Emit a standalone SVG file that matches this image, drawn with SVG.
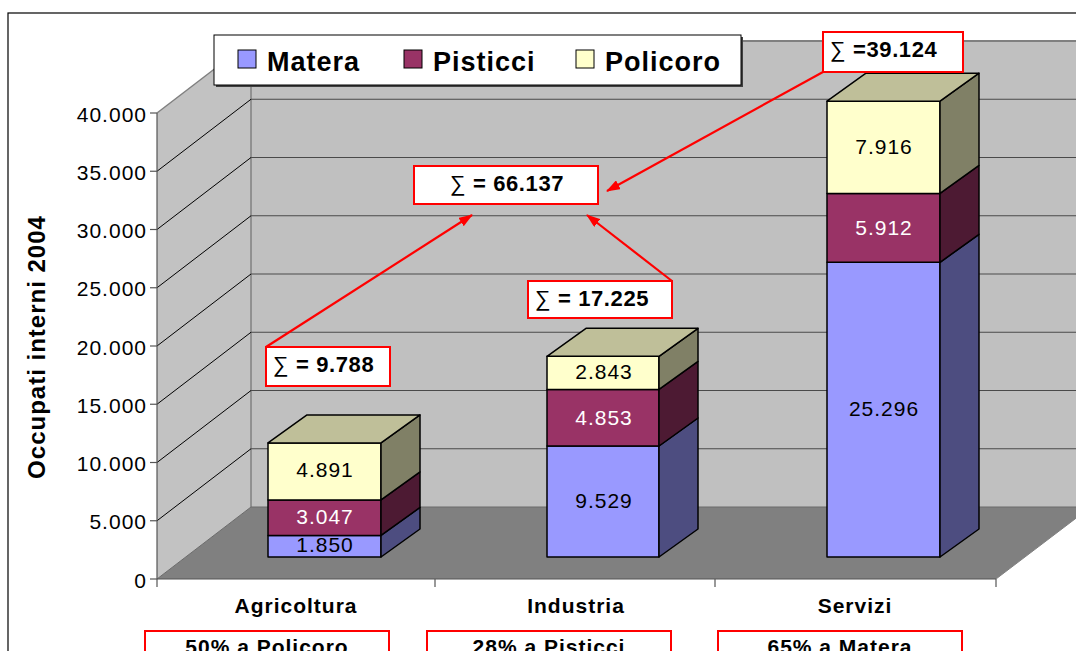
<svg xmlns="http://www.w3.org/2000/svg" width="1076" height="651" viewBox="0 0 1076 651">
<defs>
<marker id="ah" viewBox="0 0 14 10" refX="13" refY="5" markerWidth="14" markerHeight="10" markerUnits="userSpaceOnUse" orient="auto">
<path d="M0,0 L14,5 L0,10 Z" fill="#ff0000"/>
</marker>
</defs>
<style>
text{font-family:"Liberation Sans",Arial,sans-serif;fill:#000}
.tick{font-size:21px;letter-spacing:1px;text-anchor:end}
.val{font-size:21px;letter-spacing:1px;text-anchor:middle}
.valw{font-size:21px;letter-spacing:1px;text-anchor:middle;fill:#fff}
.cat{font-size:21px;font-weight:bold;letter-spacing:1px;text-anchor:middle}
.leg{font-size:27px;font-weight:bold;letter-spacing:1px}
.sum{font-size:22px;font-weight:bold;letter-spacing:0.6px}
.sig{font-weight:normal}
.box{fill:#fff;stroke:#ff0000;stroke-width:2}
.arr{stroke:#ff0000;stroke-width:2.2;fill:none;marker-end:url(#ah)}
.bgrid{stroke:#4a4a4a;stroke-width:1}
.sgrid{stroke:#000;stroke-width:1}
.bar{stroke:#000;stroke-width:1.5;stroke-linejoin:round}
.mf{fill:#9999ff}.ms{fill:#4d4d80}
.pf{fill:#993366}.ps{fill:#4d1a33}
.lf{fill:#ffffcc}.ls{fill:#808066}.lt{fill:#bfbf99}
</style>
<rect x="0" y="0" width="1076" height="651" fill="#fff"/>
<rect x="8" y="13" width="1100" height="700" fill="none" stroke="#000" stroke-width="1.2"/>

<g id="walls">
<polygon points="251,41 1100,41 1100,507 251,507" fill="#c0c0c0"/>
<polygon points="157,113 251,41 251,507 157,579" fill="#c2c2c2"/>
<polygon points="157,579 251,507 1100,507 1023,579 996,579" fill="#808080"/>
<line x1="251" y1="41" x2="1100" y2="41" stroke="#808080" stroke-width="2"/>
<line x1="157" y1="113" x2="251" y2="41" stroke="#808080" stroke-width="1.5"/>
<line x1="251" y1="41" x2="251" y2="507" stroke="#808080" stroke-width="1.5"/>
<g class="bgrid">
<line x1="251" y1="99.25" x2="1100" y2="99.25"/>
<line x1="251" y1="157.5" x2="1100" y2="157.5"/>
<line x1="251" y1="215.75" x2="1100" y2="215.75"/>
<line x1="251" y1="274" x2="1100" y2="274"/>
<line x1="251" y1="332.25" x2="1100" y2="332.25"/>
<line x1="251" y1="390.5" x2="1100" y2="390.5"/>
<line x1="251" y1="448.75" x2="1100" y2="448.75"/>
</g>
<g class="sgrid">
<line x1="157" y1="171.25" x2="251" y2="99.25"/>
<line x1="157" y1="229.5" x2="251" y2="157.5"/>
<line x1="157" y1="287.75" x2="251" y2="215.75"/>
<line x1="157" y1="346" x2="251" y2="274"/>
<line x1="157" y1="404.25" x2="251" y2="332.25"/>
<line x1="157" y1="462.5" x2="251" y2="390.5"/>
<line x1="157" y1="520.75" x2="251" y2="448.75"/>
</g>
<line x1="157" y1="579" x2="251" y2="507" stroke="#6a6a6a" stroke-width="1"/>
<line x1="251" y1="507" x2="1100" y2="507" stroke="#6a6a6a" stroke-width="1"/>
<polygon points="996,579 1100,500 1100,651 996,651" fill="#fff"/>
<line x1="996" y1="579" x2="1100" y2="500" stroke="#808080" stroke-width="1"/>
</g>

<g id="axes" stroke="#555" stroke-width="1.2">
<line x1="157" y1="113" x2="157" y2="587"/>
<line x1="157" y1="579" x2="996" y2="579"/>
<line x1="150" y1="113" x2="157" y2="113"/>
<line x1="150" y1="171.25" x2="157" y2="171.25"/>
<line x1="150" y1="229.5" x2="157" y2="229.5"/>
<line x1="150" y1="287.75" x2="157" y2="287.75"/>
<line x1="150" y1="346" x2="157" y2="346"/>
<line x1="150" y1="404.25" x2="157" y2="404.25"/>
<line x1="150" y1="462.5" x2="157" y2="462.5"/>
<line x1="150" y1="520.75" x2="157" y2="520.75"/>
<line x1="150" y1="579" x2="157" y2="579"/>
<line x1="435" y1="579" x2="435" y2="587"/>
<line x1="715" y1="579" x2="715" y2="587"/>
<line x1="996" y1="579" x2="996" y2="587"/>
</g>

<g id="ticklabels">
<text class="tick" x="147" y="121.5">40.000</text>
<text class="tick" x="147" y="179.75">35.000</text>
<text class="tick" x="147" y="238">30.000</text>
<text class="tick" x="147" y="296.25">25.000</text>
<text class="tick" x="147" y="354.5">20.000</text>
<text class="tick" x="147" y="412.75">15.000</text>
<text class="tick" x="147" y="471">10.000</text>
<text class="tick" x="147" y="529.25">5.000</text>
<text class="tick" x="147" y="587.5">0</text>
</g>

<g id="ytitle">
<text transform="translate(45,347) rotate(-90)" text-anchor="middle" style="font-size:24px;font-weight:bold;letter-spacing:1px">Occupati interni 2004</text>
</g>

<g id="bar-agricoltura" class="bar">
<rect class="mf" x="268" y="535.45" width="113" height="21.55"/>
<polygon class="ms" points="381,535.45 420,507.45 420,529 381,557"/>
<rect class="pf" x="268" y="499.95" width="113" height="35.5"/>
<polygon class="ps" points="381,499.95 420,471.95 420,507.45 381,535.45"/>
<rect class="lf" x="268" y="442.97" width="113" height="56.98"/>
<polygon class="ls" points="381,442.97 420,414.97 420,471.95 381,499.95"/>
<polygon class="lt" points="268,442.97 307,414.97 420,414.97 381,442.97"/>
</g>
<g id="bar-industria" class="bar">
<rect class="mf" x="547" y="445.99" width="112" height="111.01"/>
<polygon class="ms" points="659,445.99 698,417.99 698,529 659,557"/>
<rect class="pf" x="547" y="389.45" width="112" height="56.54"/>
<polygon class="ps" points="659,389.45 698,361.45 698,417.99 659,445.99"/>
<rect class="lf" x="547" y="356.33" width="112" height="33.12"/>
<polygon class="ls" points="659,356.33 698,328.33 698,361.45 659,389.45"/>
<polygon class="lt" points="547,356.33 586,328.33 698,328.33 659,356.33"/>
</g>
<g id="bar-servizi" class="bar">
<rect class="mf" x="827" y="262.3" width="113" height="294.7"/>
<polygon class="ms" points="940,262.3 979,234.3 979,529 940,557"/>
<rect class="pf" x="827" y="193.43" width="113" height="68.87"/>
<polygon class="ps" points="940,193.43 979,165.43 979,234.3 940,262.3"/>
<rect class="lf" x="827" y="101.21" width="113" height="92.22"/>
<polygon class="ls" points="940,101.21 979,73.21 979,165.43 940,193.43"/>
<polygon class="lt" points="827,101.21 866,73.21 979,73.21 940,101.21"/>
</g>

<g id="values">
<text class="val" x="325" y="477">4.891</text>
<text class="valw" x="325" y="524">3.047</text>
<text class="val" x="325" y="552">1.850</text>
<text class="val" x="604" y="379">2.843</text>
<text class="valw" x="604" y="425">4.853</text>
<text class="val" x="604" y="508">9.529</text>
<text class="val" x="884" y="154">7.916</text>
<text class="valw" x="884" y="235">5.912</text>
<text class="val" x="884" y="416">25.296</text>
</g>

<g id="categories">
<text class="cat" x="296" y="613">Agricoltura</text>
<text class="cat" x="576" y="613">Industria</text>
<text class="cat" x="855" y="613">Servizi</text>
</g>

<g id="legend">
<rect x="216" y="37" width="527" height="50" fill="#404040"/>
<rect x="214" y="35" width="527" height="50" fill="#fff" stroke="#000" stroke-width="1"/>
<rect x="238" y="50" width="18" height="18" fill="#9999ff" stroke="#000" stroke-width="1"/>
<text class="leg" x="267" y="71">Matera</text>
<rect x="404" y="50" width="18" height="18" fill="#993366" stroke="#000" stroke-width="1"/>
<text class="leg" x="433" y="71">Pisticci</text>
<rect x="576" y="50" width="18" height="18" fill="#ffffcc" stroke="#000" stroke-width="1"/>
<text class="leg" x="605" y="71">Policoro</text>
</g>

<g id="connectors">
<line class="arr" x1="266" y1="347" x2="472" y2="215"/>
<line class="arr" x1="672" y1="281" x2="587" y2="215"/>
<line class="arr" x1="823" y1="72" x2="607" y2="191"/>
</g>

<g id="sum-total">
<rect class="box" x="414" y="166" width="184" height="38"/>
<text class="sum" x="450" y="191"><tspan class="sig">∑</tspan> = 66.137</text>
</g>
<g id="sum-agricoltura">
<rect class="box" x="266" y="347" width="124" height="39"/>
<text class="sum" x="273" y="372"><tspan class="sig">∑</tspan> = 9.788</text>
</g>
<g id="sum-industria">
<rect class="box" x="528" y="281" width="144" height="37"/>
<text class="sum" x="535" y="306"><tspan class="sig">∑</tspan> = 17.225</text>
</g>
<g id="sum-servizi">
<rect class="box" x="823" y="32" width="140" height="40"/>
<text class="sum" x="830" y="57"><tspan class="sig">∑</tspan> =39.124</text>
</g>

<g id="note-agricoltura">
<rect class="box" x="145" y="631" width="244" height="40"/>
<text class="cat" x="267" y="654">50% a Policoro</text>
</g>
<g id="note-industria">
<rect class="box" x="427" y="631" width="244" height="40"/>
<text class="cat" x="549" y="654">28% a Pisticci</text>
</g>
<g id="note-servizi">
<rect class="box" x="718" y="631" width="244" height="40"/>
<text class="cat" x="840" y="654">65% a Matera</text>
</g>
</svg>
